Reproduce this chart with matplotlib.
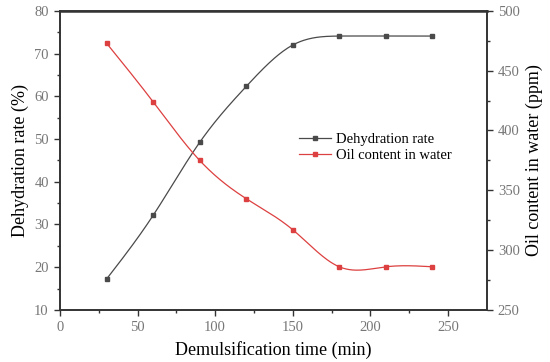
import numpy as np
import matplotlib
matplotlib.use('Agg')
import matplotlib.pyplot as plt

time_min = [30, 60, 90, 120, 150, 180, 210, 240]
dehydration = [17.2, 32.1, 49.2, 62.3, 72.0, 74.1, 74.1, 74.1]
oil_ppm = [473, 424, 375, 343, 317, 286, 286, 286]


def smooth(x, y, n=300):
    # natural cubic spline, like the Origin spline connector
    x = np.asarray(x, float)
    y = np.asarray(y, float)
    h = np.diff(x)
    k = len(x)
    A = np.zeros((k, k))
    b = np.zeros(k)
    A[0, 0] = A[-1, -1] = 1
    for i in range(1, k - 1):
        A[i, i - 1] = h[i - 1]
        A[i, i] = 2 * (h[i - 1] + h[i])
        A[i, i + 1] = h[i]
        b[i] = 6 * ((y[i + 1] - y[i]) / h[i] - (y[i] - y[i - 1]) / h[i - 1])
    m = np.linalg.solve(A, b)
    xs = np.linspace(x[0], x[-1], n)
    idx = np.clip(np.searchsorted(x, xs) - 1, 0, k - 2)
    x0, x1 = x[idx], x[idx + 1]
    hh = x1 - x0
    t0, t1 = x1 - xs, xs - x0
    ys = (m[idx] * t0**3 + m[idx + 1] * t1**3) / (6 * hh) \
        + (y[idx] / hh - m[idx] * hh / 6) * t0 \
        + (y[idx + 1] / hh - m[idx + 1] * hh / 6) * t1
    return xs, ys


plt.rcParams['font.family'] = 'Liberation Serif'
fig = plt.figure(figsize=(5.5, 3.62), dpi=100)
ax = fig.add_axes([0.109, 0.144, 0.776, 0.826])
ax2 = ax.twinx()

dark = '#4a4a4a'
red = '#dd4040'

xs, ys = smooth(time_min, dehydration)
ax.plot(xs, ys, color=dark, lw=0.9)
ax.plot(time_min, dehydration, 's', color=dark, ms=3)
xs, ys = smooth(time_min, oil_ppm)
ax2.plot(xs, ys, color=red, lw=0.9)
ax2.plot(time_min, oil_ppm, 's', color=red, ms=3)

ax.plot([], [], '-s', color=dark, lw=0.9, ms=3, label='Dehydration rate')
ax.plot([], [], '-s', color=red, lw=0.9, ms=3, label='Oil content in water')
ax.legend(loc='upper left', bbox_to_anchor=(0.53, 0.635), frameon=False,
          fontsize=10.5, handlelength=2.2, handletextpad=0.3, labelspacing=0.15)

ax.set_xlim(0, 275)
ax.set_ylim(10, 80)
ax2.set_ylim(250, 500)
ax.set_xticks([0, 50, 100, 150, 200, 250])
ax.set_xticks(np.arange(25, 275, 50), minor=True)
ax.set_yticks(np.arange(10, 81, 10))
ax.set_yticks(np.arange(15, 80, 10), minor=True)
ax2.set_yticks(np.arange(250, 501, 50))
ax2.set_yticks(np.arange(275, 500, 50), minor=True)

for a in (ax, ax2):
    a.tick_params(which='both', direction='out', colors='#333333', labelcolor='#777777',
                  labelsize=10.5, width=1)
    a.tick_params(which='major', length=4, pad=4)
    a.tick_params(which='minor', length=2.5)
    for s in a.spines.values():
        s.set_color('#333333')
        s.set_linewidth(1.2)
ax2.spines['top'].set_linewidth(1.8)

ax.set_xlabel('Demulsification time (min)', fontsize=13, labelpad=5)
ax.set_ylabel('Dehydration rate (%)', fontsize=13)
ax2.set_ylabel('Oil content in water (ppm)', fontsize=13)

fig.savefig('out.png', dpi=100)
